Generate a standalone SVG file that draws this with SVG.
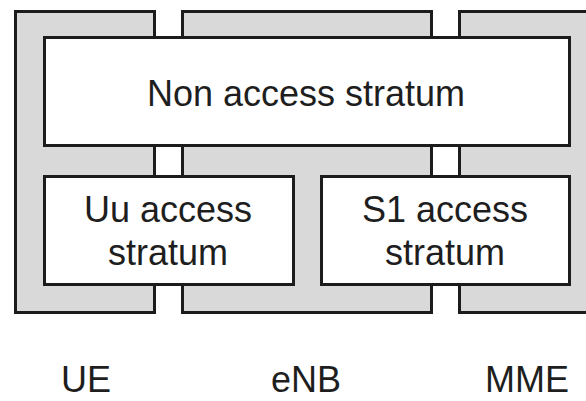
<svg xmlns="http://www.w3.org/2000/svg" width="586" height="401" viewBox="0 0 586 401">
<style>
.col{fill:#d9d9d9;stroke:#1c1c1c;stroke-width:3}
.box{fill:#ffffff;stroke:#1c1c1c;stroke-width:3}
text{font-family:"Liberation Sans",Arial,sans-serif;font-size:36px;fill:#1e1e1e;text-anchor:middle}
</style>
<rect width="586" height="401" fill="#ffffff"/>
<g id="ue"><rect class="col" x="15.5" y="11.5" width="139" height="301"/></g>
<g id="enb"><rect class="col" x="182.5" y="11.5" width="249" height="301"/></g>
<g id="mme"><rect class="col" x="459.5" y="11.5" width="140" height="301"/></g>
<g id="nas"><rect class="box" x="44.5" y="37.5" width="525" height="108"/><text x="306" y="106">Non access stratum</text></g>
<g id="uu"><rect class="box" x="44.5" y="176.5" width="249" height="108"/><text x="168" y="222">Uu access</text><text x="168" y="265">stratum</text></g>
<g id="s1"><rect class="box" x="321.5" y="176.5" width="248" height="108"/><text x="445" y="222">S1 access</text><text x="445" y="265">stratum</text></g>
<g id="labels"><text x="86" y="392">UE</text><text x="306" y="392">eNB</text><text x="527" y="392">MME</text></g>
<g id="connectors"></g>
</svg>
